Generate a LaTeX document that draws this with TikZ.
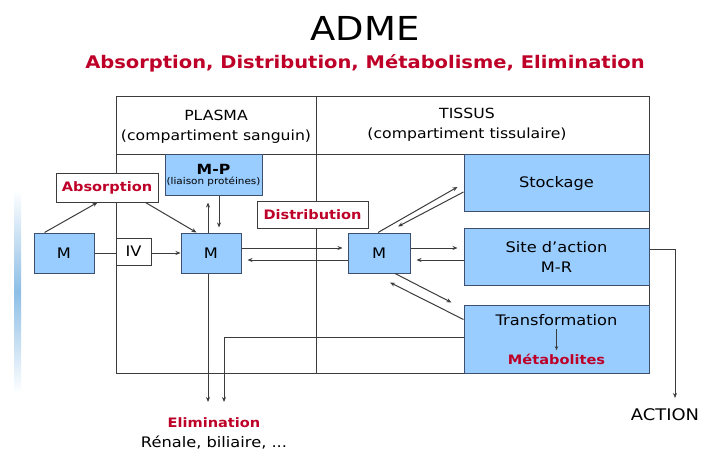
\documentclass[tikz,border=0pt]{standalone}
\usepackage{fontspec}
\setmainfont[FakeStretch=1.12]{DejaVu Sans}
\usetikzlibrary{arrows.meta,calc}
\definecolor{boxblue}{RGB}{153,204,255}
\definecolor{boxedge}{RGB}{60,80,110}
\definecolor{adred}{RGB}{190,0,40}
\definecolor{linegray}{RGB}{60,60,60}
\definecolor{stripe}{RGB}{140,190,230}
\begin{document}
\begin{tikzpicture}[x=1pt,y=-1pt,
  bluebox/.style={draw=boxedge,fill=boxblue,line width=1pt,inner sep=0pt,text=black},
  whitebox/.style={draw=linegray,fill=white,line width=0.9pt,inner sep=0pt},
  arr/.style={draw=linegray,line width=1pt,-{Stealth[length=5pt,width=4pt]}},
  ln/.style={draw=linegray,line width=1pt},
  redlab/.style={text=adred,font=\bfseries\fontsize{13}{15}\selectfont},
  txt/.style={font=\fontsize{14.5}{20}\selectfont},
  htxt/.style={font=\fontsize{14}{20}\selectfont}]
\path[fill=white] (0,0) rectangle (703,462);
\useasboundingbox (0,0) rectangle (703,462);
\shade[top color=white,bottom color=white,middle color=stripe] (14,190) rectangle (21,393);
% titles
\node[font=\fontsize{33}{38}\selectfont] (title) at (365,28) {ADME};
\node[text=adred,font=\bfseries\fontsize{17.4}{20}\selectfont] (sub) at (365,63) {Absorption, Distribution, Métabolisme, Elimination};
% frame
\draw[ln] (116,97) rectangle (649,373);
\draw[ln] (116,155) -- (649,155);
\draw[ln] (316,97) -- (316,373);
\node[htxt,align=center] (plasma) at (216,127) {PLASMA\\(compartiment sanguin)};
\node[htxt,align=center] (tissus) at (467,125) {TISSUS\\(compartiment tissulaire)};
% boxes
\node[bluebox,txt,minimum width=60,minimum height=40] (Ml) at (64,253) {M};
\node[whitebox,txt,minimum width=35,minimum height=27] (IV) at (133.5,251.5) {IV};
\node[bluebox,txt,minimum width=60,minimum height=40] (Mc) at (211,253) {M};
\node[bluebox,txt,minimum width=62,minimum height=40] (Mr) at (379,253) {M};
\node[bluebox,minimum width=97,minimum height=41,align=center] (MP) at (213.5,175.5) {{\bfseries\fontsize{14}{15}\selectfont M-P}\\[-2pt]{\fontsize{9.3}{10}\selectfont (liaison protéines)}};
\node[whitebox,redlab,minimum width=102,minimum height=29] (Abs) at (107,187.5) {Absorption};
\node[whitebox,redlab,minimum width=111,minimum height=27] (Dist) at (312.5,214.5) {Distribution};
\node[bluebox,txt,minimum width=185,minimum height=57] (St) at (556.5,183.5) {Stockage};
\node[bluebox,txt,minimum width=185,minimum height=57,align=center] (Site) at (556.5,256.5) {Site d'action\\M-R};
\node[bluebox,minimum width=185,minimum height=68] (Tr) at (556.5,339) {};
\node[txt] (trt) at (556.5,320) {Transformation};
\node[redlab] (met) at (556.5,359) {Métabolites};
\draw[arr,line width=0.8pt,-{Stealth[length=4pt,width=3.5pt]}] (trt.south) -- (met.north);
% labels below
\node[redlab] (elim) at (214,423) {Elimination};
\node[txt] (ren) at (214,443) {Rénale, biliaire, ...};
\node[font=\fontsize{16}{18}\selectfont] (action) at (665,415) {ACTION};
\coordinate (actend) at (675,398);
\coordinate (e1) at (208,402);
\coordinate (e2) at (224,402);
% connectors
\draw[arr] ($(Ml.north west)+(11,0)$) -- ($(Abs.south west)+(42,0)$);
\draw[arr] ($(Abs.south east)+(-13,0)$) -- ($(Mc.north west)+(16,0)$);
\draw[ln] (Ml.east) -- (Ml.east -| IV.west);
\draw[arr] (IV.east |- Mc.west) -- (Mc.west);
\draw[arr,shorten >=6pt] ($(Mc.north)+(-3,0)$) -- ($(MP.south)+(-5.5,0)$);
\draw[arr,shorten >=5pt] ($(MP.south)+(5.5,0)$) -- ($(Mc.north)+(8,0)$);
\draw[arr,shorten >=5pt] ($(Mc.east)+(0,-5)$) -- ($(Mr.west)+(0,-5)$);
\draw[arr,shorten >=6pt] ($(Mr.west)+(0,7)$) -- ($(Mc.east)+(0,7)$);
\draw[arr] ($(Mr.north)+(-1,0)$) -- ($(St.west)+(-6,3.5)$);
\draw[arr] ($(St.west)+(0,8.5)$) -- ($(Mr.north)+(19,-6)$);
\draw[arr,shorten >=6pt] ($(Mr.east)+(0,-5)$) -- ($(Mr.east -| Site.west)+(0,-5)$);
\draw[arr,shorten >=6pt] ($(Mr.east -| Site.west)+(0,7)$) -- ($(Mr.east)+(0,7)$);
\draw[arr] ($(Mr.south)+(16,0)$) -- ($(Tr.north west)+(-12,-2)$);
\draw[arr] ($(Tr.north west)+(0,15)$) -- ($(Mr.south)+(11,9)$);
\draw[arr] ($(Site.east)+(0,-7.5)$) -| (actend);
\draw[arr] ($(Mc.south)+(-3,0)$) -- (e1);
\draw[arr] ($(Tr.west)+(0,-2)$) -| (e2);
\end{tikzpicture}
\end{document}
